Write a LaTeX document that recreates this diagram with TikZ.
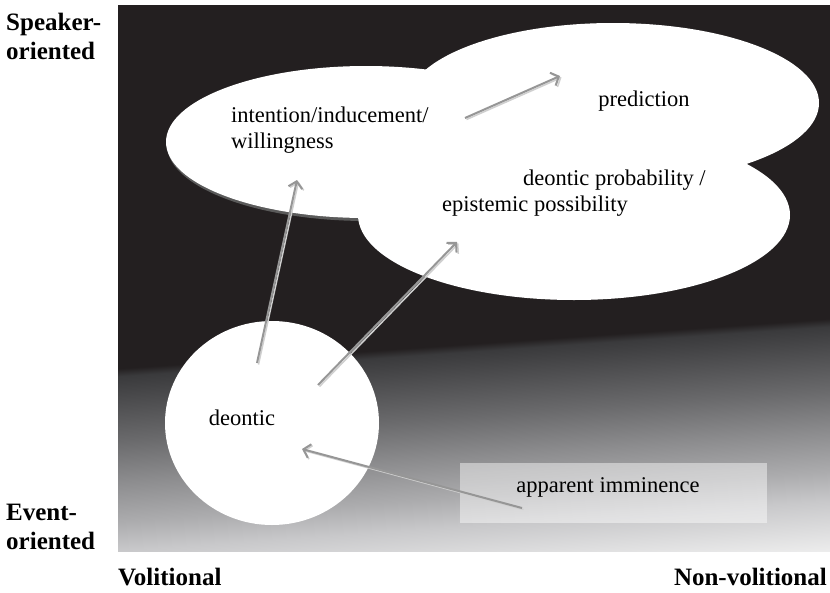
\documentclass[tikz,border=0pt]{standalone}
\usepackage{fontspec}
\setmainfont{Liberation Serif}
\usetikzlibrary{shapes.geometric,arrows.meta}
\definecolor{panelblack}{HTML}{231F20}
\definecolor{gw}{HTML}{F8F8F8}
\definecolor{ga}{HTML}{F0F0F0}
\definecolor{gb}{HTML}{C8C8CA}
\definecolor{gc}{HTML}{ACACAE}
\definecolor{gd}{HTML}{8C8C8E}
\definecolor{ge}{HTML}{6A6A6C}
\definecolor{gf}{HTML}{4C4C4E}
\definecolor{gg}{HTML}{3A3A3C}
\definecolor{shadowgray}{HTML}{5A5A5A}
\definecolor{arrowgray}{HTML}{969696}
\definecolor{arrowlight}{HTML}{CFCFCF}
\pgfdeclareverticalshading{panelshade}{100bp}{color(0bp)=(gw); color(20.6bp)=(gw); color(22.74bp)=(ga); color(27.76bp)=(gb); color(30.3bp)=(gc); color(33.96bp)=(gd); color(37.6bp)=(ge); color(41.25bp)=(gf); color(43.4bp)=(gg); color(44.1bp)=(panelblack); color(100bp)=(panelblack)}
\tikzset{
  blob/.style={ellipse, fill=white, inner sep=0pt},
  lbl/.style={font=\fontsize{22.5}{26}\selectfont, text=black, inner sep=0pt},
  axislbl/.style={font=\fontsize{25}{29}\selectfont\bfseries, text=black, inner sep=0pt, align=left},
  arr/.style={draw=arrowgray, line width=2pt, -{Straight Barb[length=6.5pt,width=14pt,line width=2pt]}},
  arrsh/.style={draw=arrowlight, line width=1.5pt, -{Straight Barb[length=6.5pt,width=14pt,line width=1.5pt]}}
}
\begin{document}
\begin{tikzpicture}[x=1pt,y=-1pt]
\useasboundingbox (0,0) rectangle (830,592);
% panel
\shade[shading=panelshade, shading angle=4] (118,5) rectangle (830,551);
% shapes
\node[blob, fill=shadowgray, minimum width=400, minimum height=152] (intsh) at (367,145) {};
\node[blob, minimum width=400, minimum height=152] (intent) at (366,142) {};
\node[blob, minimum width=412, minimum height=160] (cloudtop) at (613,103) {};
\node[blob, minimum width=432, minimum height=170] (cloudbot) at (574,215) {};
\node[blob, minimum width=214, minimum height=204] (deon) at (272,423) {};
\node[fill=white, fill opacity=0.45, minimum width=307, minimum height=60, inner sep=0pt] (immbox) at (613.5,493) {};
% texts
\node[lbl, anchor=west, align=left] (tint) at (231,130) {intention/inducement/\\willingness};
\node[lbl] (tpred) at (644,101) {prediction};
\node[lbl, anchor=west, align=left] (tdp) at (442,193) {\hspace*{81pt}deontic probability /\\epistemic possibility};
\node[lbl] (tdeon) at (242,418) {deontic};
\node[lbl] (timm) at (608,487) {apparent imminence};
\node[axislbl, anchor=west] (spk) at (6,36) {Speaker-\\oriented};
\node[axislbl, anchor=west] (evt) at (6,527) {Event-\\oriented};
\node[axislbl, anchor=west] (vol) at (118,577) {Volitional};
\node[axislbl, anchor=east] (nonvol) at (827,577) {Non-volitional};
% arrow end points
\coordinate (d1) at (257,363);
\coordinate (i1) at (297,180);
\coordinate (d2) at (318,385);
\coordinate (e2) at (457,242);
\coordinate (i3) at (465,118);
\coordinate (p3) at (560,76);
\coordinate (m4) at (522,508);
\coordinate (d4) at (302,449);
% arrows
\draw[arrsh] ([shift={(1.5,1.5)}]d1) -- ([shift={(1.5,1.5)}]i1);
\draw[arrsh] ([shift={(1.5,1.5)}]d2) -- ([shift={(1.5,1.5)}]e2);
\draw[arrsh] ([shift={(1.5,1.5)}]i3) -- ([shift={(1.5,1.5)}]p3);
\draw[arrsh] ([shift={(1.5,1.5)}]m4) -- ([shift={(1.5,1.5)}]d4);
\draw[arr] (d1) -- (i1);
\draw[arr] (d2) -- (e2);
\draw[arr] (i3) -- (p3);
\draw[arr] (m4) -- (d4);
\end{tikzpicture}
\end{document}
